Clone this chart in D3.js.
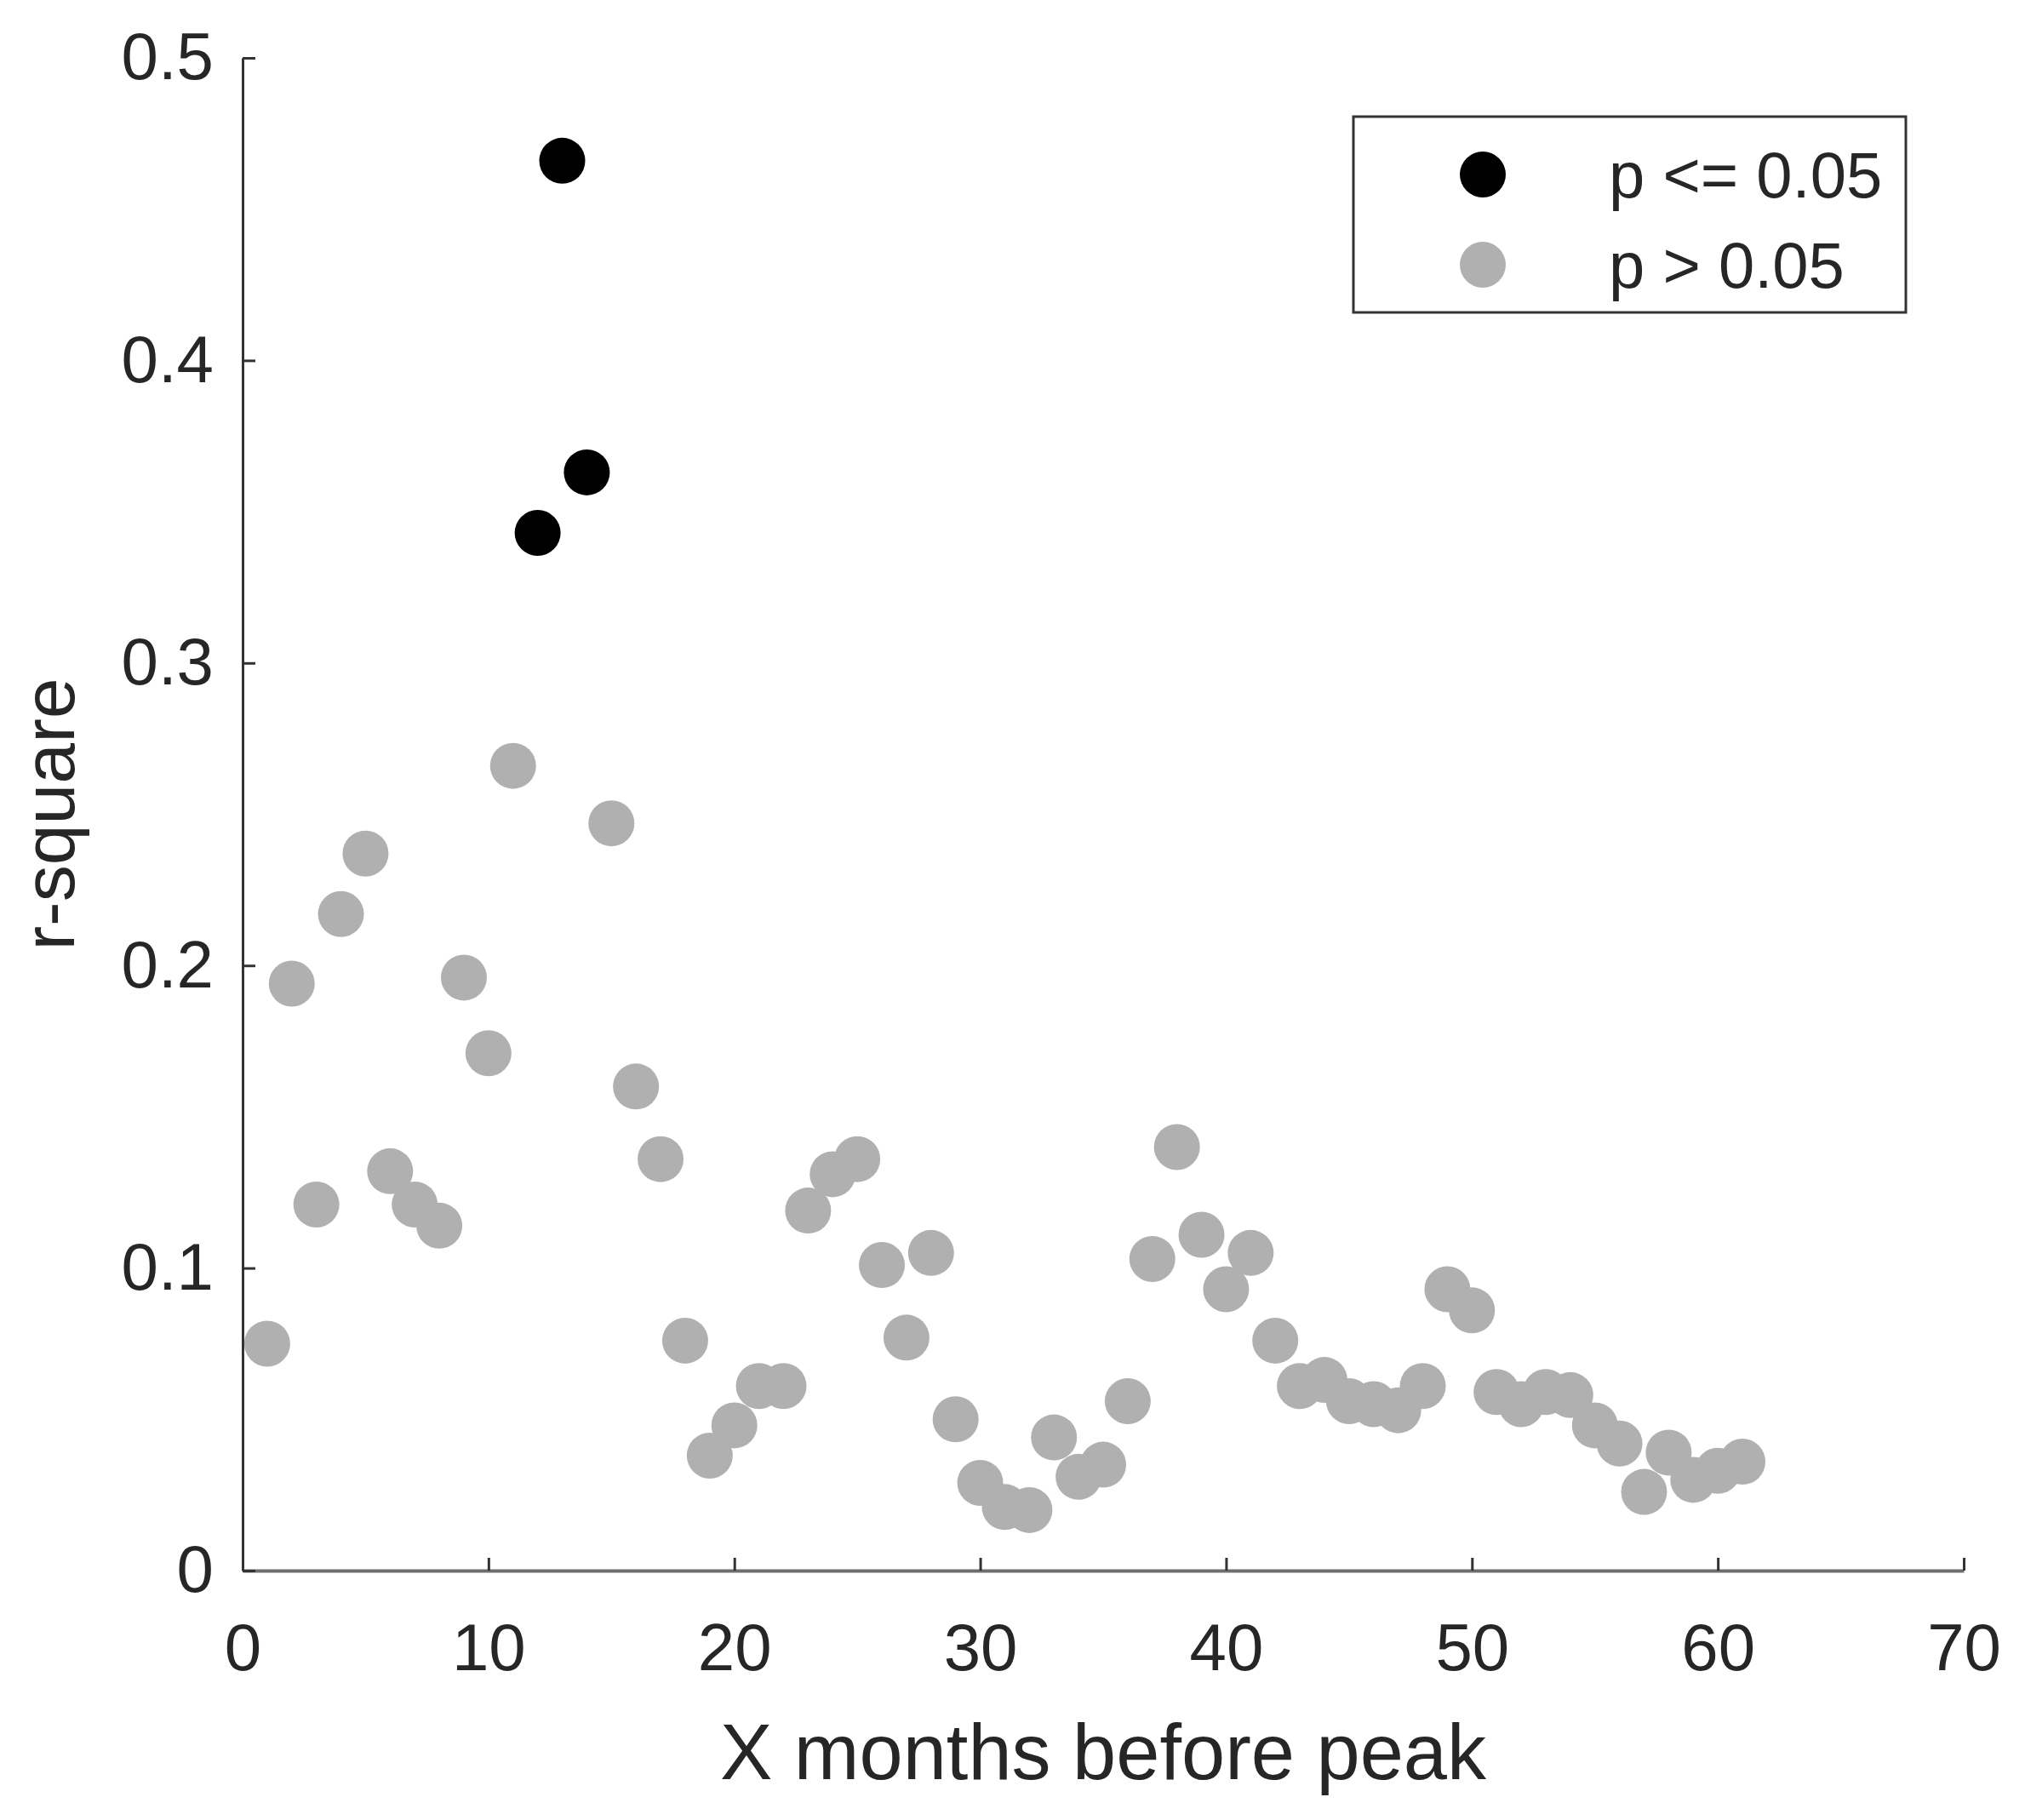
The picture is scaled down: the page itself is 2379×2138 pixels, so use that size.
<!DOCTYPE html>
<html>
<head>
<meta charset="utf-8">
<script src="https://cdn.jsdelivr.net/npm/d3@7"></script>
<style>
  body { margin: 0; background: #fff; }
  text { font-family: "Liberation Sans", Arial, sans-serif; fill: #262626; }
</style>
</head>
<body>
<div id="rsq-chart"></div>
<script>
// months before peak (x) and r-square values
var months = [1,2,3,4,5,6,7,8,9,10,11,12,13,14,15,16,17,18,19,20,
              21,22,23,24,25,26,27,28,29,30,31,32,33,34,35,36,37,38,39,40,
              41,42,43,44,45,46,47,48,49,50,51,52,53,54,55,56,57,58,59,60,61];
var rsquare = [0.075,0.194,0.121,0.217,0.237,0.132,0.121,0.114,0.196,0.171,
               0.266,0.343,0.466,0.363,0.247,0.160,0.136,0.076,0.038,0.048,
               0.061,0.061,0.119,0.131,0.136,0.101,0.077,0.105,0.050,0.029,
               0.021,0.020,0.044,0.031,0.035,0.056,0.103,0.140,0.111,0.093,
               0.105,0.076,0.061,0.063,0.056,0.055,0.053,0.061,0.093,0.086,
               0.059,0.055,0.059,0.058,0.048,0.042,0.026,0.039,0.030,0.033,0.036];
// months whose fit was significant (p <= 0.05)
var significant = [12, 13, 14];

var xTicks = [0,10,20,30,40,50,60,70];
var yTicks = [0,0.1,0.2,0.3,0.4,0.5];
var legendLabels = ["p <= 0.05", "p > 0.05"];
var legendColors = ["#000000", "#b0b0b0"];

drawChart();

function drawChart() {
    var W = 2379, H = 2138;
    var margin = {top: 68, right: 72, bottom: 293, left: 285};
    var width = W - margin.left - margin.right,
        height = H - margin.top - margin.bottom;

    var svg = d3.select("#rsq-chart").append("svg")
        .attr("width", W).attr("height", H);
    var g = svg.append("g").attr("transform", "translate(" + margin.left + "," + margin.top + ")");

    var x = d3.scaleLinear().domain([0, 70]).range([0, width]);
    var y = d3.scaleLinear().domain([0, 0.5]).range([height, 0]);

    var data = months.map(function(m, i) {
        return {m: m, r: rsquare[i], sig: significant.indexOf(m) >= 0};
    });

    // axes, ticks point inward like matlab
    var xAxis = g.append("g")
        .attr("transform", "translate(0," + height + ")")
        .call(d3.axisBottom(x).tickValues(xTicks).tickFormat(d3.format("d"))
            .tickSizeInner(-15).tickSizeOuter(0).tickPadding(62));
    var yAxis = g.append("g")
        .call(d3.axisLeft(y).tickValues(yTicks).tickFormat(function(d) { return d === 0 ? "0" : d3.format(".1f")(d); })
            .tickSizeInner(-15).tickSizeOuter(0).tickPadding(34));

    xAxis.select(".domain").attr("stroke", "#6f6f6f").attr("stroke-width", 4);
    yAxis.select(".domain").attr("stroke", "#333").attr("stroke-width", 3);
    g.selectAll(".tick line").attr("stroke", "#333").attr("stroke-width", 3);
    g.selectAll(".tick text").attr("font-size", 78).attr("fill", "#1a1a1a")
        .style("font-family", "'Liberation Sans', Arial, sans-serif");

    // points
    g.append("g").selectAll("circle")
        .data(data)
        .enter().append("circle")
        .attr("cx", function(d) { return x(d.m); })
        .attr("cy", function(d) { return y(d.r); })
        .attr("r", 27)
        .attr("fill", function(d) { return d.sig ? legendColors[0] : legendColors[1]; });

    // axis titles
    g.append("text")
        .attr("x", x(35)).attr("y", height + 245)
        .attr("text-anchor", "middle").attr("font-size", 92)
        .text("X months before peak");
    g.append("text")
        .attr("transform", "translate(" + (-198) + "," + y(0.25) + ") rotate(-90)")
        .attr("text-anchor", "middle").attr("font-size", 86)
        .text("r-square");

    // legend
    var lg = svg.append("g").attr("transform", "translate(1590,137)");
    lg.append("rect").attr("width", 649).attr("height", 230)
        .attr("fill", "#fff").attr("stroke", "#333").attr("stroke-width", 3);
    legendLabels.forEach(function(lab, i) {
        lg.append("circle").attr("cx", 152).attr("cy", 68 + i * 106).attr("r", 27)
            .attr("fill", legendColors[i]);
        lg.append("text").attr("x", 300).attr("y", 68 + i * 106).attr("dy", "0.36em")
            .attr("font-size", 76).text(lab);
    });
}
</script>
</body>
</html>
